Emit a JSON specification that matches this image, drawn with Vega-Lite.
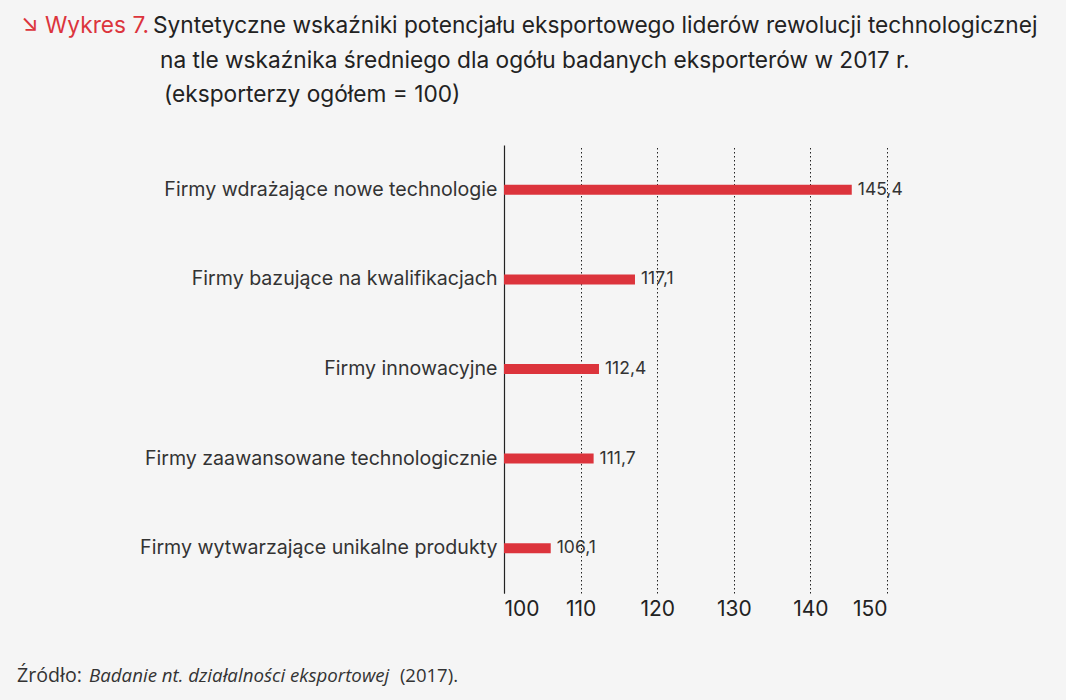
{
  "$schema": "https://vega.github.io/schema/vega-lite/v6.json",
  "autosize": {"type": "none"},
  "width": 383,
  "height": 448,
  "padding": {"left": 504, "top": 145, "right": 179, "bottom": 107},
  "background": "#f5f5f5",
  "config": {
    "view": {"stroke": null},
    "font": "Inter",
    "locale": {"number": {"decimal": ",", "thousands": " ", "grouping": [3], "currency": ["", " zł"]}}
  },
  "layer": [
    {
      "data": {
        "values": [
          {"grupa": "Firmy wdrażające nowe technologie", "wskaznik": 145.4},
          {"grupa": "Firmy bazujące na kwalifikacjach", "wskaznik": 117.1},
          {"grupa": "Firmy innowacyjne", "wskaznik": 112.4},
          {"grupa": "Firmy zaawansowane technologicznie", "wskaznik": 111.7},
          {"grupa": "Firmy wytwarzające unikalne produkty", "wskaznik": 106.1}
        ]
      },
      "encoding": {
        "y": {
          "field": "grupa",
          "type": "nominal",
          "sort": null,
          "scale": {"paddingInner": 0, "paddingOuter": 0},
          "axis": {
            "title": null,
            "ticks": false,
            "domain": true,
            "domainColor": "#222222",
            "domainWidth": 1.2,
            "labelFont": "Inter",
            "labelFontSize": 19.6,
            "labelColor": "#333333",
            "labelPadding": 7,
            "labelLimit": 500
          }
        }
      },
      "layer": [
        {
          "mark": {"type": "bar", "size": 10, "color": "#dc343c"},
          "encoding": {
            "x": {
              "field": "wskaznik",
              "type": "quantitative",
              "scale": {"domain": [100, 150], "zero": false, "nice": false},
              "axis": {
                "title": null,
                "values": [100, 110, 120, 130, 140, 150],
                "ticks": false,
                "domain": false,
                "grid": true,
                "gridColor": "#222222",
                "gridDash": [1.5, 2.5],
                "gridWidth": 1,
                "labelFont": "Inter",
                "labelFontSize": 21,
                "labelColor": "#222222",
                "labelPadding": 5
              }
            },
            "x2": {"datum": 100}
          }
        },
        {
          "mark": {"type": "text", "align": "left", "baseline": "middle", "dx": 6, "font": "Inter", "fontSize": 17.5, "color": "#333333"},
          "encoding": {
            "x": {"field": "wskaznik", "type": "quantitative"},
            "text": {"field": "wskaznik", "type": "quantitative", "format": ".1f"}
          }
        }
      ]
    },
    {
      "data": {"values": [{"t": "↘ Wykres 7."}]},
      "mark": {"type": "text", "align": "left", "baseline": "alphabetic", "font": "Inter", "fontSize": 22.7, "color": "#dc343c"},
      "encoding": {"text": {"field": "t"}, "x": {"value": -483}, "y": {"value": -112}}
    },
    {
      "data": {
        "values": [
          {"t": "Syntetyczne wskaźniki potencjału eksportowego liderów rewolucji technologicznej", "px": -351, "py": -112},
          {"t": "na tle wskaźnika średniego dla ogółu badanych eksporterów w 2017 r.", "px": -344, "py": -77},
          {"t": "(eksporterzy ogółem = 100)", "px": -340, "py": -43}
        ]
      },
      "mark": {"type": "text", "align": "left", "baseline": "alphabetic", "font": "Inter", "fontSize": 22.7, "color": "#222222"},
      "encoding": {"text": {"field": "t"}, "x": {"field": "px", "type": "quantitative", "scale": null}, "y": {"field": "py", "type": "quantitative", "scale": null}}
    },
    {
      "data": {"values": [{"t": "Źródło:"}]},
      "mark": {"type": "text", "align": "left", "baseline": "alphabetic", "font": "Open Sans", "fontSize": 19.6, "color": "#333333"},
      "encoding": {"text": {"field": "t"}, "x": {"value": -487}, "y": {"value": 537}}
    },
    {
      "data": {"values": [{"t": "Badanie nt. działalności eksportowej"}]},
      "mark": {"type": "text", "align": "left", "baseline": "alphabetic", "font": "Open Sans", "fontStyle": "italic", "fontSize": 18.7, "color": "#333333"},
      "encoding": {"text": {"field": "t"}, "x": {"value": -415}, "y": {"value": 537}}
    },
    {
      "data": {"values": [{"t": "(2017)."}]},
      "mark": {"type": "text", "align": "right", "baseline": "alphabetic", "font": "Open Sans", "fontSize": 18.5, "color": "#333333"},
      "encoding": {"text": {"field": "t"}, "x": {"value": -46}, "y": {"value": 537}}
    }
  ]
}
